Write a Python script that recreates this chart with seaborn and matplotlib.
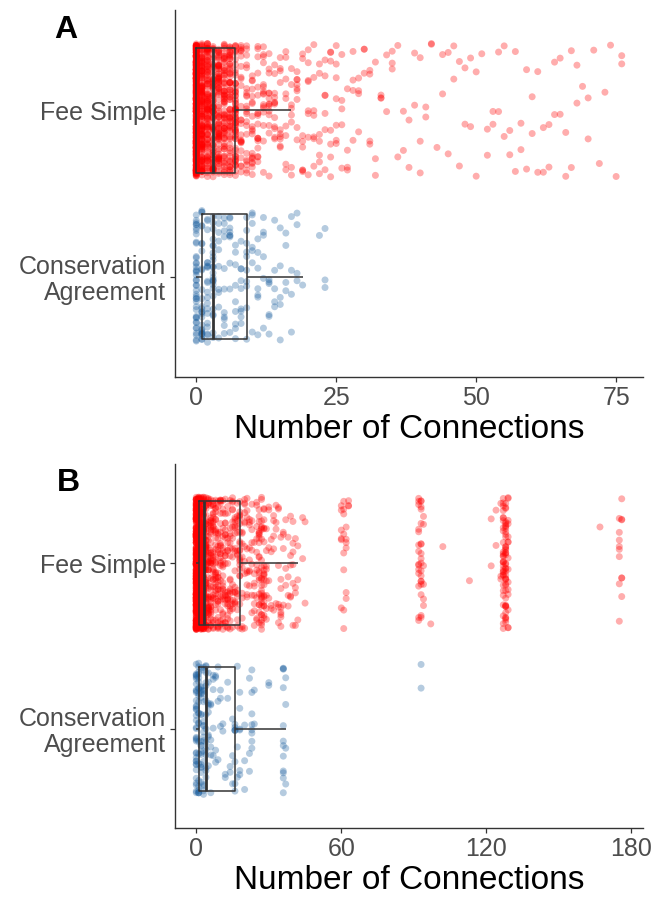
import numpy as np
import pandas as pd
import matplotlib
matplotlib.use("Agg")
import matplotlib.pyplot as plt
import seaborn as sns

# ---------------- data (value -> count) ----------------
categories = ["Fee Simple", "Conservation Agreement"]
tick_labels = ["Fee Simple", "Conservation\nAgreement"]

# Panel A
feeA_values = [0, 1, 2, 3, 4, 5, 6, 7, 8, 9, 10, 11, 12, 13, 14, 15, 16, 17,
               18, 19, 20, 21, 22, 23, 24, 25, 26, 27, 28, 29, 30, 31, 32, 33, 34, 35,
               36, 37, 38, 39, 40, 41, 42, 43, 44, 45, 46, 47, 48, 49, 50,
               51, 52, 53, 54, 55, 56, 57, 58, 59, 60, 61, 62, 63, 64, 65, 66, 67, 68,
               69, 70, 71, 72, 73, 74, 75, 76]
feeA_counts = [420, 150, 110, 90, 85, 75, 70, 65, 25, 22, 20, 18, 16, 14, 12, 10, 9, 8,
               9, 8, 8, 7, 7, 7, 7, 7, 5, 4, 4, 4, 3, 4, 3, 3, 2, 3,
               2, 2, 2, 2, 3, 2, 2, 1, 2, 2, 2, 2, 2, 2, 2,
               1, 2, 2, 2, 2, 2, 2, 2, 2, 2, 2, 2, 2, 2, 2, 2, 2, 2,
               1, 2, 1, 1, 1, 1, 1, 2]
consA_values = [0, 1, 2, 3, 4, 5, 6, 7, 8, 9, 10, 11, 12, 13, 14, 15, 16, 17, 18, 19, 22, 23]
consA_counts = [42, 28, 20, 24, 10, 11, 10, 9, 9, 10, 7, 7, 6, 6, 5, 5, 4, 4, 4, 1, 1, 3]

# Panel B
feeB_values = [0, 1, 2, 3, 4, 5, 6, 7, 8, 9, 10, 11, 12, 13, 14, 15, 16, 17, 18,
               19, 20, 21, 22, 23, 24, 25, 26, 27, 28, 29, 30, 31, 32, 33, 34, 35, 36,
               37, 38, 39, 40, 41, 42, 44, 45,
               60, 61, 62, 63, 92, 93, 94, 97, 102, 113, 122, 124, 126, 127, 128, 129,
               167, 175, 176]
feeB_counts = [320, 160, 160, 110, 45, 40, 35, 30, 28, 25, 24, 22, 20, 18, 18, 16, 15, 14, 20,
               10, 10, 9, 8, 8, 8, 10, 20, 25, 20, 8, 5, 4, 5, 4, 6, 8, 4,
               3, 4, 5, 6, 4, 3, 2, 2,
               6, 8, 6, 3, 14, 18, 6, 1, 1, 1, 2, 2, 3, 30, 40, 15,
               1, 8, 6]
consB_values = [0, 1, 2, 3, 4, 5, 6, 7, 8, 9, 10, 11, 12, 13, 14, 15, 16,
                17, 18, 20, 22, 23, 24, 30, 36, 37, 93]
consB_counts = [36, 24, 18, 18, 14, 8, 6, 5, 4, 3, 3, 2, 2, 2, 2, 3, 8,
                3, 6, 3, 3, 8, 2, 2, 12, 4, 2]

panels = [
    ("A", feeA_values, feeA_counts, consA_values, consA_counts, [0, 25, 50, 75], (-3.8, 79.8)),
    ("B", feeB_values, feeB_counts, consB_values, consB_counts, [0, 60, 120, 180], (-8.8, 184.8)),
]

colors = {"Fee Simple": "#FF0000", "Conservation Agreement": "#1A5E9E"}

sns.set_theme(style="ticks")
plt.rcParams["font.family"] = ["Liberation Sans", "DejaVu Sans"]

W, H = 656, 898
fig = plt.figure(figsize=(W / 100, H / 100), dpi=100)
axes_px = [(175, 10, 643, 377), (175, 464, 643, 828)]
letter_pos = [(66, 30), (68, 483)]

for (letter, fv, fc, cv, cc, xticks, xlim), (l, t, r, b), (lx, ly) in zip(panels, axes_px, letter_pos):
    ax = fig.add_axes([l / W, 1 - b / H, (r - l) / W, (b - t) / H])
    df = pd.DataFrame({
        "land": ["Fee Simple"] * int(np.sum(fc)) + ["Conservation Agreement"] * int(np.sum(cc)),
        "conn": np.concatenate([np.repeat(fv, fc), np.repeat(cv, cc)]).astype(float),
    })
    sns.stripplot(data=df, x="conn", y="land", hue="land", order=categories,
                  hue_order=categories, palette=colors, jitter=0.4, size=5.0,
                  alpha=0.32, linewidth=0, legend=False, ax=ax, zorder=1)
    sns.boxplot(data=df, x="conn", y="land", order=categories, fill=False,
                color="#333333", width=0.75, showcaps=False, showfliers=False,
                whis=1.5, linewidth=1.1, medianprops=dict(linewidth=2.0), ax=ax)
    for ln in ax.lines:
        ln.set_zorder(3)
    for p in ax.patches:
        p.set_zorder(3)
    ax.set_xlim(*xlim)
    ax.set_ylim(1.6, -0.6)
    ax.set_xticks(xticks)
    ax.set_xticklabels([str(v) for v in xticks])
    ax.set_yticks([0, 1])
    ax.set_yticklabels(tick_labels, linespacing=1.1)
    ax.set_ylabel("")
    ax.set_xlabel("Number of Connections", fontsize=24, color="black", labelpad=3)
    ax.tick_params(axis="both", labelsize=18, labelcolor="#4D4D4D", color="#333333",
                   length=3.5, width=0.9, pad=3)
    for s in ["top", "right"]:
        ax.spines[s].set_visible(False)
    for s in ["left", "bottom"]:
        ax.spines[s].set_color("#333333")
        ax.spines[s].set_linewidth(1.0)
    fig.text(lx / W, 1 - ly / H, letter, ha="center", va="center",
             fontsize=23, fontweight="bold", color="black")

fig.savefig("out.png", dpi=100)
